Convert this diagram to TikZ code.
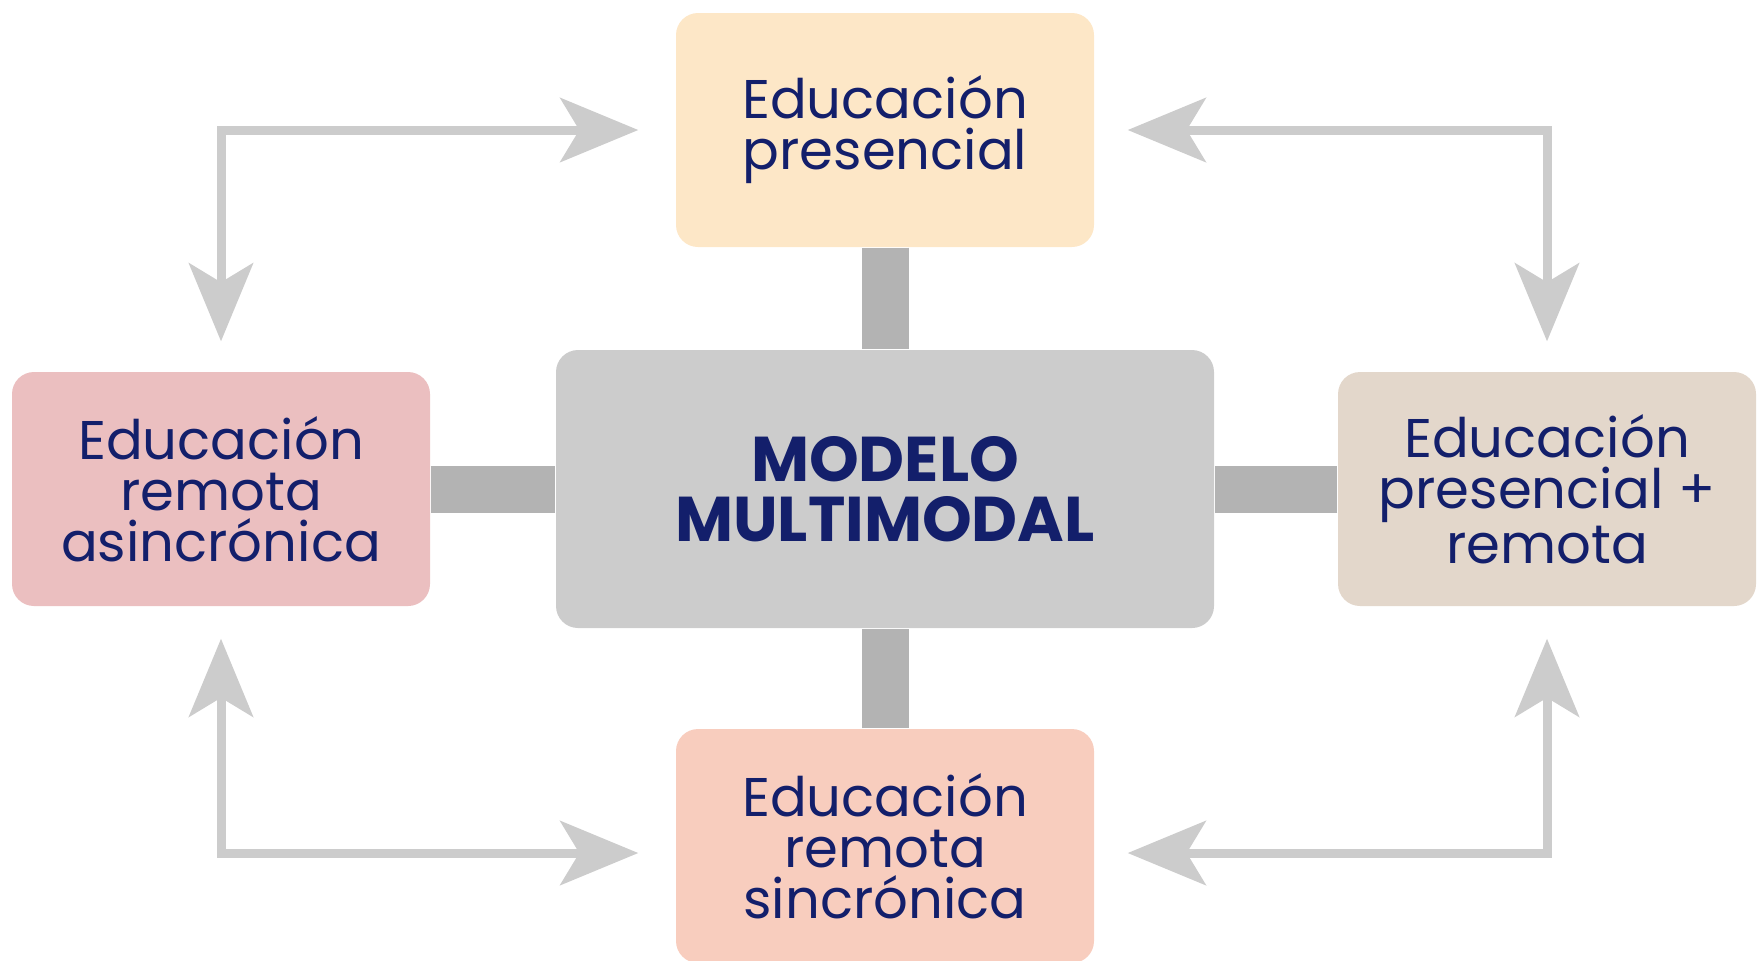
\documentclass[tikz,border=0pt]{standalone}
\usepackage{fontspec}
\setmainfont{Poppins}
\usepackage{tikz}
\usetikzlibrary{arrows.meta}

\definecolor{navy}{HTML}{131F6B}
\definecolor{bargray}{HTML}{B3B3B3}
\definecolor{linkgray}{HTML}{CCCCCC}
\definecolor{boxgray}{HTML}{CCCCCC}
\definecolor{boxcream}{HTML}{FDE7C7}
\definecolor{boxrose}{HTML}{EBBFC0}
\definecolor{boxsand}{HTML}{E3D7CB}
\definecolor{boxpeach}{HTML}{F8CDBE}

\begin{document}
\begin{tikzpicture}[
    mode/.style={rounded corners=0.22cm, minimum width=4.18cm, minimum height=2.34cm,
        align=center, text=navy, font=\fontsize{15.5}{14.5}\selectfont},
    bar/.style={bargray, line width=0.47cm},
    link/.style={linkgray, line width=0.09cm,
        {Stealth[length=0.78cm, width=0.64cm, inset=0.19cm]}-{Stealth[length=0.78cm, width=0.64cm, inset=0.19cm]}}
]
    \useasboundingbox (0, 0) rectangle (17.59, -9.60);

    \node[mode, fill=boxgray, minimum width=6.58cm, minimum height=2.78cm,
          font=\fontsize{18}{17}\selectfont\bfseries] (mm) at (8.85, -4.89) {MODELO\\MULTIMODAL};
    \node[mode, fill=boxcream] (top) at (8.85, -1.30) {Educación\\presencial};
    \node[mode, fill=boxrose] (left) at (2.21, -4.89) {Educación\\remota\\asincrónica};
    \node[mode, fill=boxsand] (right) at (15.47, -4.89) {Educación\\presencial +\\remota};
    \node[mode, fill=boxpeach] (bottom) at (8.85, -8.46) {Educación\\remota\\sincrónica};

    \draw[bar] (top.south) -- (mm.north);
    \draw[bar] (bottom.north) -- (mm.south);
    \draw[bar] (left.east) -- (mm.west);
    \draw[bar] (right.west) -- (mm.east);

    \draw[link] ([xshift=-0.37cm]top.west) -| ([yshift=0.30cm]left.north);
    \draw[link] ([xshift=0.33cm]top.east) -| ([yshift=0.30cm]right.north);
    \draw[link] ([xshift=-0.37cm, yshift=-0.07cm]bottom.west) -| ([yshift=-0.32cm]left.south);
    \draw[link] ([xshift=0.33cm, yshift=-0.07cm]bottom.east) -| ([yshift=-0.32cm]right.south);
\end{tikzpicture}
\end{document}
